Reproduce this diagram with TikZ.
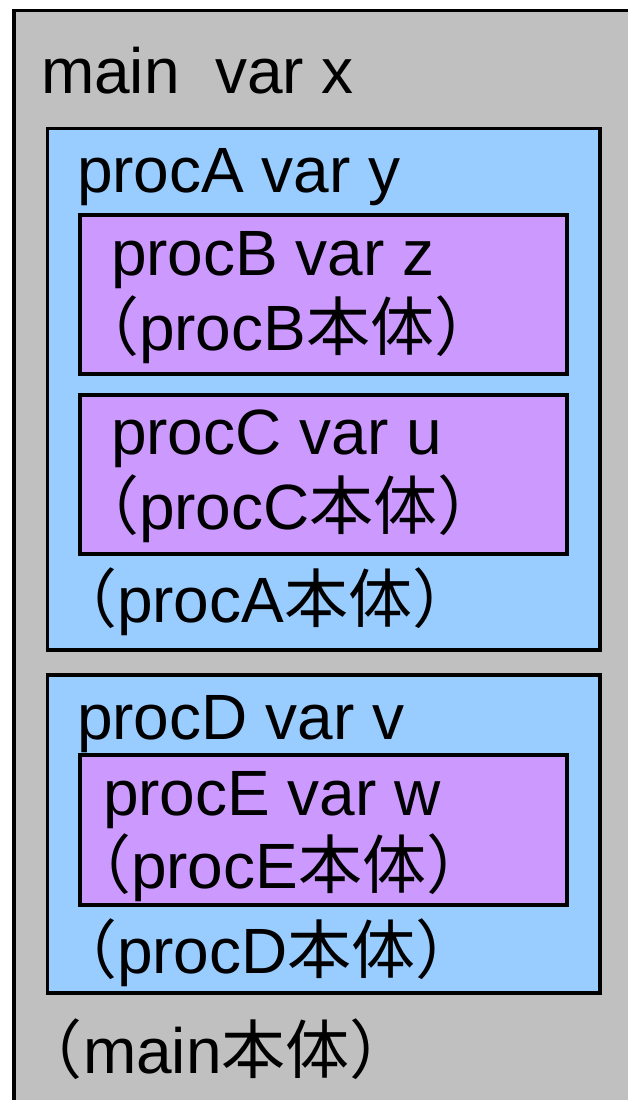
\documentclass[tikz,border=0pt]{standalone}
\usepackage{fontspec}
\setmainfont{Liberation Sans}
\newfontfamily\jp{Noto Sans CJK JP}
\definecolor{boxgray}{HTML}{C0C0C0}
\definecolor{boxblue}{HTML}{99CCFF}
\definecolor{boxpurple}{HTML}{CC99FF}
\begin{document}
\begin{tikzpicture}[x=1pt,y=-1pt,
  frame/.style={draw=black,line width=3.5pt},
  lbl/.style={anchor=base west,inner sep=0pt,outer sep=0pt,font=\fontsize{64}{64}\selectfont}]
\useasboundingbox (0,0) rectangle (628,1100);
\clip (0,0) rectangle (628,1100);
\fill[white] (0,0) rectangle (628,1100);
\draw[frame,fill=boxgray] (14,10.5) rectangle (660,1130);
\draw[frame,fill=boxblue] (47.5,128.5) rectangle (600,650);
\draw[frame,fill=boxpurple] (80,215) rectangle (567,374);
\draw[frame,fill=boxpurple] (80,395) rectangle (567,554);
\draw[frame,fill=boxblue] (47.5,675) rectangle (600,993);
\draw[frame,fill=boxpurple] (80,755) rectangle (567,905);
\node[lbl] (tmain) at (41,93) {main\ \ var x};
\node[lbl] (ta) at (77,192) {procA var y};
\node[lbl] (tb) at (111,275) {procB var z};
\node[lbl] (tbb) at (75,350) {{\jp （}procB{\jp 本体）}};
\node[lbl] (tc) at (111,454) {procC var u};
\node[lbl] (tcb) at (75,529) {{\jp （}procC{\jp 本体）}};
\node[lbl] (tab) at (53,622) {{\jp （}procA{\jp 本体）}};
\node[lbl] (td) at (77,739) {procD var v};
\node[lbl] (te) at (103,815) {procE var w};
\node[lbl] (teb) at (67,888) {{\jp （}procE{\jp 本体）}};
\node[lbl] (tdb) at (53,973) {{\jp （}procD{\jp 本体）}};
\node[lbl] (tmb) at (19,1073) {{\jp （}main{\jp 本体）}};
\end{tikzpicture}
\end{document}
